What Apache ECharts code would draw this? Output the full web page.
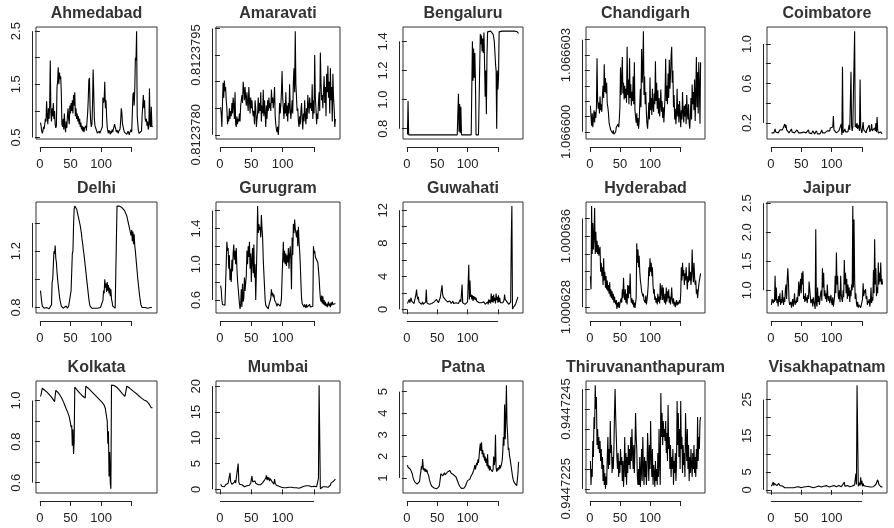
<!DOCTYPE html>
<html><head><meta charset="utf-8">
<script src="https://cdn.jsdelivr.net/npm/echarts@6/dist/echarts.min.js"></script>
<style>html,body{margin:0;padding:0;background:#fff}#c{width:894px;height:528px}</style>
</head><body><div id="c"></div>
<script>
const cities = ['Ahmedabad','Amaravati','Bengaluru','Chandigarh','Coimbatore','Delhi','Gurugram','Guwahati','Hyderabad','Jaipur','Kolkata','Mumbai','Patna','Thiruvananthapuram','Visakhapatnam'];
const xTickValues = [0,50,100,150];
const xLabelValues = [0,50,100];

const ahmedabad = [0.78,0.72,0.62,0.58,0.62,0.70,0.66,0.75,0.85,0.80,
1.18,0.90,0.75,1.05,0.85,1.10,1.95,0.95,0.80,1.05,
0.90,1.15,0.85,1.00,0.75,0.68,0.72,1.45,1.55,1.82,
1.50,1.72,1.60,1.65,1.35,0.75,0.70,0.85,0.65,0.95,
0.70,0.60,0.80,0.68,0.90,1.05,0.85,0.75,1.10,0.95,
1.15,1.00,1.20,0.95,1.30,1.10,1.35,0.90,1.05,0.85,
0.95,0.80,0.90,0.75,0.85,0.70,0.78,0.65,0.72,0.62,
0.70,0.60,0.68,0.65,0.72,0.63,0.80,0.95,1.20,1.58,
1.62,1.05,0.80,0.70,0.75,1.10,1.78,1.35,0.85,0.72,
0.70,0.65,0.62,0.58,0.60,0.56,0.62,0.58,0.55,0.60,
0.58,0.70,1.25,1.15,1.20,1.55,1.05,1.20,0.90,0.70,
0.62,0.58,0.64,0.60,0.56,0.62,0.58,0.65,0.60,0.58,
0.63,0.75,0.70,0.66,0.60,0.64,0.62,0.58,0.62,0.60,
0.66,0.82,1.05,0.95,0.75,0.70,0.65,0.60,0.62,0.58,
0.60,0.56,0.58,0.62,0.60,0.55,0.60,0.58,0.65,0.60,
0.62,1.30,1.35,1.10,1.40,2.00,1.95,2.50,0.92,0.75,
0.62,0.58,0.56,0.60,0.58,0.62,0.90,1.10,1.30,1.05,
1.20,0.85,0.80,0.85,0.72,0.80,0.65,0.70,1.42,0.75,
0.70,1.08,0.70,0.72];

const amaravati = [0.81237852,0.8123784,0.81237815,0.8123786,0.81237898,0.8123787,0.81237902,0.81237882,0.8123789,0.81237865,
0.8123785,0.8123782,0.81237835,0.81237825,0.8123785,0.8123783,0.81237845,0.81237835,0.8123786,0.8123784,
0.8123787,0.81237855,0.8123783,0.8123788,0.8123782,0.81237815,0.81237835,0.8123782,0.8123783,0.81237825,
0.8123784,0.81237825,0.81237855,0.81237865,0.81237875,0.8123786,0.812379,0.81237885,0.81237865,0.8123789,
0.8123787,0.81237855,0.8123788,0.8123786,0.81237845,0.8123789,0.81237865,0.8123784,0.8123787,0.8123785,
0.81237865,0.81237845,0.81237835,0.81237845,0.8123782,0.81237865,0.8123785,0.81237815,0.8123783,0.8123784,
0.8123787,0.8123784,0.8123786,0.81237845,0.8123788,0.81237825,0.81237855,0.8123784,0.81237885,0.81237835,
0.81237865,0.8123784,0.81237815,0.81237855,0.8123783,0.81237865,0.81237845,0.8123787,0.8123785,0.8123786,
0.81237845,0.81237885,0.8123786,0.8123787,0.8123785,0.81237865,0.8123789,0.81237835,0.8123782,0.8123781,
0.81237805,0.81237815,0.812378,0.8123782,0.8123786,0.8123784,0.81237855,0.8123788,0.8123792,0.8123787,
0.8123785,0.8123783,0.8123786,0.8123784,0.8123788,0.81237835,0.81237855,0.81237825,0.8123786,0.8123784,
0.81237895,0.8123785,0.8123783,0.81237845,0.81237865,0.8123784,0.812379,0.81237925,0.8123788,0.81237995,
0.81237895,0.8123787,0.81237845,0.8123785,0.81237825,0.81237815,0.81237835,0.8123782,0.81237845,0.8123786,
0.8123783,0.8123781,0.8123784,0.81237825,0.81237865,0.81237835,0.8123782,0.8123785,0.8123783,0.81237875,
0.81237855,0.8123784,0.8123787,0.8123785,0.8123786,0.81237845,0.81237895,0.8123783,0.81237865,0.8123784,
0.8123795,0.8123787,0.8123785,0.8123782,0.8123784,0.8123783,0.8123786,0.8123788,0.81237845,0.81237955,
0.812379,0.81237865,0.81237875,0.8123785,0.8123788,0.8123791,0.8123786,0.8123789,0.81237835,0.81237915,
0.8123788,0.8123793,0.8123787,0.812379,0.8123784,0.81237925,0.81237865,0.8123789,0.81237825,0.81237915,
0.8123787,0.8123785,0.81237815,0.8123783];

const bengaluru = [0.76,0.99,0.758,0.758,0.758,0.758,0.758,0.758,0.758,0.758,
0.758,0.758,0.758,0.758,0.758,0.758,0.758,0.758,0.758,0.758,
0.758,0.765,0.758,0.758,0.758,0.758,0.758,0.758,0.758,0.758,
0.758,0.758,0.758,0.758,0.758,0.758,0.758,0.758,0.758,0.758,
0.758,0.758,0.758,0.758,0.758,0.758,0.758,0.758,0.758,0.758,
0.758,0.758,0.758,0.758,0.758,0.758,0.758,0.758,0.758,0.758,
0.758,0.758,0.758,0.758,0.758,0.758,0.758,0.758,0.758,0.758,
0.758,0.758,0.758,0.758,0.758,0.758,0.758,0.758,0.758,0.758,
0.758,0.758,0.758,0.758,1.04,0.78,0.97,0.77,0.95,0.758,
0.758,0.758,0.758,0.758,0.758,0.758,0.758,0.758,0.758,0.758,
0.758,0.758,0.758,0.758,0.758,0.758,0.758,1.40,1.13,1.35,
1.15,1.32,1.12,0.758,0.758,0.758,0.758,0.758,0.758,0.758,
1.45,1.38,1.44,1.33,1.42,1.32,1.46,1.25,1.02,1.20,
0.90,1.30,1.465,1.47,1.47,1.47,1.47,1.47,1.47,1.47,
1.46,1.45,1.43,1.40,1.33,1.25,1.20,0.80,1.20,1.07,
1.15,1.465,1.47,1.47,1.47,1.47,1.47,1.47,1.47,1.47,
1.47,1.47,1.47,1.47,1.47,1.47,1.47,1.47,1.47,1.47,
1.47,1.47,1.47,1.47,1.47,1.47,1.47,1.47,1.47,1.47,
1.468,1.465,1.46,1.455];

const chandigarh = [1.06660085,1.0666005,1.0666002,1.0666006,1.06660015,1.0666004,1.0666007,1.0666003,1.06660065,1.06660045,
1.0666008,1.0666024,1.066601,1.06660075,1.06660095,1.0666006,1.06660115,1.0666007,1.0666009,1.06660065,
1.0666012,1.0666015,1.0666011,1.0666022,1.0666013,1.06660175,1.06660125,1.0666016,1.0666009,1.0666008,
1.0666006,1.0666003,1.0666002,1.06660015,1.06660005,1.0666001,1.0666,1.06659995,1.06660005,1.06659992,
1.0665999,1.06659991,1.0666,1.06660015,1.0666002,1.0666001,1.06660025,1.06660015,1.0666004,1.0666008,
1.0666021,1.0666012,1.0666017,1.06660244,1.06660125,1.0666016,1.06660105,1.0666015,1.0666011,1.0666014,
1.06660095,1.06660277,1.0666012,1.0666017,1.0666009,1.0666024,1.0666011,1.06660155,1.06660085,1.0666013,
1.066601,1.0666018,1.0666009,1.06660227,1.0666007,1.0666005,1.0666003,1.0666006,1.0666002,1.06660045,
1.0666001,1.06660035,1.0666009,1.0666014,1.0666008,1.0666027,1.0666016,1.066602,1.06660328,1.0666012,
1.0666018,1.0666009,1.0666013,1.0666006,1.06660025,1.0666001,1.0666005,1.06660095,1.0666004,1.06660177,
1.0666007,1.0666011,1.06660055,1.0666014,1.0666008,1.06660065,1.06660125,1.0666009,1.0666023,1.066601,
1.0666016,1.06660075,1.06660135,1.0666006,1.0666011,1.0666005,1.0666009,1.06660138,1.06660065,1.066601,
1.06660045,1.0666008,1.0666003,1.0666007,1.0666012,1.06660238,1.066601,1.0666015,1.0666009,1.0666019,
1.0666011,1.06660235,1.0666014,1.0666018,1.06660245,1.06660277,1.0666016,1.066602,1.0666008,1.0666012,
1.0666004,1.06660075,1.06660025,1.0666006,1.0666014,1.0666005,1.0666009,1.0666003,1.066601,1.0666006,
1.06660015,1.0666007,1.0666004,1.0666013,1.06660065,1.0666003,1.06660085,1.0666005,1.0666009,1.06660025,
1.0666012,1.0666006,1.0666004,1.0666009,1.0666003,1.0666001,1.0666005,1.0666011,1.0666004,1.06660154,
1.0666009,1.0666013,1.0666007,1.0666017,1.06660035,1.0666012,1.06660244,1.0666008,1.06660194,1.0666006,
1.06660227,1.0666015,1.06660026,1.06660227];

const coimbatore = [0.10,0.09,0.10,0.11,0.10,0.12,0.14,0.11,0.10,0.12,
0.11,0.10,0.12,0.11,0.13,0.12,0.11,0.12,0.13,0.12,
0.14,0.13,0.19,0.15,0.18,0.13,0.12,0.15,0.11,0.10,
0.11,0.10,0.12,0.14,0.11,0.10,0.12,0.13,0.10,0.09,
0.10,0.11,0.13,0.14,0.12,0.10,0.09,0.10,0.11,0.10,
0.12,0.10,0.09,0.11,0.10,0.12,0.11,0.10,0.09,0.10,
0.11,0.13,0.10,0.09,0.11,0.10,0.09,0.10,0.12,0.11,
0.10,0.09,0.10,0.11,0.12,0.10,0.09,0.10,0.11,0.10,
0.09,0.10,0.11,0.13,0.10,0.09,0.10,0.11,0.10,0.12,
0.11,0.10,0.12,0.14,0.11,0.13,0.12,0.15,0.13,0.16,
0.14,0.16,0.27,0.13,0.15,0.12,0.11,0.10,0.12,0.11,
0.10,0.12,0.14,0.11,0.13,0.19,0.08,0.77,0.10,0.09,
0.12,0.14,0.11,0.13,0.10,0.12,0.11,0.15,0.18,0.13,
0.14,0.72,0.17,0.12,0.16,0.14,0.18,1.13,0.16,0.19,
0.15,0.20,0.14,0.13,0.18,0.12,0.64,0.15,0.13,0.10,
0.16,0.21,0.13,0.11,0.14,0.12,0.10,0.13,0.11,0.15,
0.12,0.18,0.11,0.10,0.14,0.19,0.12,0.10,0.13,0.11,
0.15,0.12,0.20,0.11,0.26,0.13,0.10,0.12,0.11,0.10,
0.11,0.10,0.09,0.10];

const delhi = [0.92,0.88,0.84,0.81,0.80,0.80,0.795,0.80,0.80,0.795,
0.80,0.80,0.795,0.80,0.79,0.80,0.80,0.80,0.82,0.98,
1.00,1.10,1.20,1.18,1.24,1.15,1.12,1.05,1.00,0.96,
0.92,0.88,0.85,0.83,0.81,0.80,0.80,0.795,0.80,0.80,
0.80,0.80,0.81,0.80,0.795,0.80,0.81,0.80,0.80,0.82,
0.92,1.05,1.18,1.20,1.38,1.50,1.52,1.52,1.51,1.50,
1.48,1.46,1.44,1.42,1.40,1.38,1.35,1.32,1.28,1.25,
1.21,1.18,1.14,1.10,1.06,1.02,0.98,0.94,0.90,0.86,
0.83,0.81,0.80,0.80,0.795,0.80,0.80,0.80,0.795,0.80,
0.80,0.80,0.80,0.795,0.80,0.80,0.80,0.80,0.80,0.81,
0.80,0.81,0.85,0.92,0.90,1.00,0.94,0.97,0.91,0.98,
0.92,0.96,0.90,0.94,0.88,0.93,0.86,0.84,0.81,0.80,
0.80,0.80,0.795,0.80,0.80,1.52,1.52,1.52,1.52,1.52,
1.52,1.52,1.515,1.51,1.51,1.50,1.50,1.49,1.48,1.47,
1.46,1.45,1.43,1.41,1.39,1.37,1.35,1.33,1.31,1.35,
1.27,1.34,1.25,1.32,1.24,1.20,1.15,1.10,1.05,1.00,
0.96,0.92,0.88,0.85,0.82,0.81,0.80,0.80,0.795,0.80,
0.80,0.80,0.81,0.80,0.80,0.795,0.80,0.80,0.80,0.80,
0.80,0.795,0.80,0.80];

const gurugram = [0.76,0.72,0.60,0.55,0.54,0.53,0.55,0.54,0.56,0.55,
1.25,1.15,1.18,0.95,1.10,0.82,0.95,0.80,1.05,0.92,
1.12,1.22,1.05,1.15,1.00,1.18,0.95,0.82,0.80,0.65,
0.56,0.50,0.55,0.72,0.52,0.78,0.58,0.62,0.85,0.70,
0.68,0.88,1.15,1.00,1.20,1.08,1.25,0.95,1.12,0.80,
1.05,1.18,0.90,1.22,0.85,1.00,0.60,0.90,1.20,1.65,
1.35,1.45,1.38,1.42,1.30,1.55,1.40,1.30,1.05,0.90,
0.75,0.60,0.54,0.52,0.55,0.53,0.50,0.54,0.52,0.56,
0.62,0.72,0.65,0.68,0.63,0.66,0.60,0.62,0.57,0.55,
0.53,0.56,0.54,0.58,0.55,0.53,0.56,0.62,0.85,1.05,
1.25,1.02,1.15,1.00,1.12,0.98,1.10,1.02,1.18,0.95,
1.10,1.20,1.05,0.72,1.30,1.10,1.45,1.35,1.50,1.40,
1.42,1.30,1.38,1.20,1.42,1.25,1.15,1.00,0.80,0.62,
0.56,0.54,0.58,0.52,0.55,0.53,0.51,0.55,0.52,0.54,
0.53,0.51,0.55,0.52,0.54,0.52,0.50,0.53,1.20,1.12,
1.15,1.08,1.10,1.05,1.06,1.02,1.00,0.85,0.72,0.62,
0.58,0.65,0.56,0.64,0.55,0.60,0.54,0.58,0.53,0.56,
0.52,0.55,0.58,0.53,0.56,0.52,0.57,0.54,0.58,0.55,
0.53,0.57,0.55,0.56];

const guwahati = [0.7,0.6,0.9,1.2,0.8,0.7,1.4,1.0,0.8,0.9,
1.0,0.7,1.1,1.3,1.8,2.4,1.6,1.2,1.5,0.9,
1.0,0.8,0.7,0.6,0.7,0.9,0.6,0.7,0.8,0.7,
0.9,2.4,0.8,0.7,0.6,0.7,0.6,0.8,0.7,0.6,
0.7,0.6,0.8,0.7,0.9,0.8,1.0,0.9,1.2,1.3,
1.0,0.8,0.7,0.9,1.4,1.2,1.6,2.9,1.8,1.5,
1.7,1.4,1.2,1.3,1.0,1.1,0.9,1.0,0.8,0.9,
1.0,0.8,0.7,0.9,0.8,1.0,0.7,0.8,0.6,0.7,
0.8,0.6,0.7,0.9,0.7,0.8,0.6,1.2,0.9,0.7,
3.0,0.8,0.7,0.6,0.7,0.6,0.8,0.7,0.6,0.9,
0.8,5.4,1.2,3.5,1.5,1.8,1.2,1.7,1.0,1.6,
1.2,1.5,1.1,1.4,1.0,1.2,0.9,1.1,0.8,0.9,
0.7,0.6,0.8,0.7,0.6,0.7,0.9,0.8,0.6,0.7,
0.8,0.7,0.9,0.6,1.2,0.8,1.1,0.7,1.9,0.9,
1.6,0.8,1.8,1.0,1.4,0.7,1.9,1.1,1.5,0.8,
1.7,0.9,1.4,0.8,0.7,1.0,0.6,0.8,0.9,1.1,
1.8,1.2,1.0,1.3,0.9,0.7,0.8,0.6,0.8,0.7,
0.9,8.5,12.5,0.05,0.2,0.3,0.5,0.4,0.6,0.5,
0.7,0.6,1.5,1.5];

const hyderabad = [1.0006315,1.00063,1.0006394,1.000634,1.0006375,1.0006345,1.000636,1.0006392,1.000634,1.0006365,
1.0006342,1.0006355,1.000634,1.000635,1.0006338,1.0006345,1.0006348,1.000632,1.000633,1.0006315,
1.0006325,1.0006305,1.0006335,1.000631,1.000632,1.0006302,1.0006315,1.00063,1.000631,1.0006298,
1.0006305,1.0006295,1.0006308,1.0006292,1.00063,1.000629,1.0006298,1.0006288,1.0006295,1.0006285,
1.0006292,1.0006286,1.0006283,1.0006288,1.0006278,1.0006285,1.000628,1.0006286,1.0006279,1.0006284,
1.0006282,1.000629,1.0006285,1.00063,1.000629,1.0006313,1.0006295,1.0006288,1.00063,1.0006285,
1.0006295,1.0006283,1.0006305,1.000629,1.0006304,1.0006295,1.0006318,1.0006292,1.0006285,1.000629,
1.0006283,1.0006288,1.000628,1.0006285,1.0006279,1.0006278,1.000629,1.0006352,1.000633,1.0006345,
1.0006325,1.0006338,1.000632,1.000631,1.0006305,1.0006298,1.00063,1.0006292,1.0006295,1.0006288,
1.000629,1.0006285,1.0006293,1.0006283,1.0006288,1.0006295,1.0006305,1.0006325,1.0006315,1.0006335,
1.000632,1.000633,1.0006315,1.0006325,1.0006305,1.0006295,1.00063,1.0006288,1.0006292,1.0006285,
1.000629,1.0006283,1.0006295,1.0006286,1.0006292,1.0006284,1.0006307,1.0006288,1.0006298,1.0006305,
1.0006288,1.0006302,1.000629,1.0006285,1.0006295,1.0006283,1.0006302,1.0006286,1.0006298,1.000629,
1.00063,1.0006285,1.0006292,1.0006283,1.000629,1.0006302,1.0006288,1.0006284,1.000629,1.0006282,
1.0006286,1.000628,1.0006284,1.0006288,1.0006282,1.0006286,1.0006283,1.0006285,1.0006288,1.0006284,
1.0006295,1.0006325,1.000631,1.000633,1.0006315,1.0006322,1.0006305,1.0006318,1.000631,1.0006325,
1.0006312,1.00063,1.0006315,1.0006308,1.000633,1.000631,1.000632,1.0006305,1.0006315,1.0006345,
1.000632,1.0006308,1.000633,1.0006315,1.0006305,1.000631,1.0006295,1.00063,1.000629,1.0006298,
1.0006305,1.000631,1.0006308,1.0006318];

const jaipur = [0.75,0.85,0.88,0.78,0.84,0.80,1.25,0.82,1.05,0.78,
0.85,0.72,0.90,0.80,0.95,0.75,0.85,0.78,1.00,0.82,
0.75,0.88,0.80,1.02,1.10,0.85,1.20,1.38,1.15,0.82,
0.75,0.72,0.80,0.70,0.78,0.85,0.72,0.80,0.95,0.75,
0.82,0.78,0.88,0.80,0.95,1.15,0.90,1.05,1.20,0.95,
1.30,1.10,1.33,0.85,0.90,0.80,0.95,0.82,0.88,0.78,
0.92,0.85,1.15,1.12,0.90,0.78,0.75,0.85,0.72,0.88,
0.80,0.75,0.68,2.05,0.78,0.72,1.05,0.80,0.90,0.75,
0.85,0.95,1.00,0.82,1.38,1.05,1.30,0.90,1.00,0.85,
0.95,0.80,1.10,0.88,0.82,0.90,0.78,0.85,0.92,0.80,
0.75,0.88,0.72,0.80,0.90,1.25,0.95,1.65,1.10,1.25,
0.90,0.85,1.00,0.80,1.25,0.92,0.85,0.80,1.00,0.88,
1.52,1.10,1.30,0.95,1.20,0.85,1.10,0.90,1.05,0.80,
1.00,0.90,1.10,1.00,2.45,1.05,2.22,1.20,0.85,0.95,
0.78,0.72,0.80,0.70,0.75,0.72,0.78,0.70,0.75,0.72,
0.85,1.12,0.90,1.00,0.95,1.02,0.85,0.90,0.75,0.82,
0.78,0.85,0.72,0.80,1.05,0.78,0.88,0.82,1.35,0.95,
1.88,1.10,1.38,0.90,1.05,0.95,1.48,1.10,1.30,1.15,
1.48,1.10,1.20,1.10];

const kolkata = [1.02,1.03,1.025,1.06,1.058,1.055,1.052,1.05,1.048,1.045,
1.043,1.04,1.037,1.034,1.03,1.027,1.024,1.02,1.016,1.012,
1.008,1.004,1.00,0.995,0.99,1.05,1.048,1.045,1.042,1.038,
1.034,1.03,1.025,1.02,1.015,1.01,1.004,0.998,0.99,0.982,
0.975,0.967,0.96,0.953,0.946,0.94,0.93,0.92,0.905,0.89,
0.87,0.88,0.78,0.86,0.74,0.80,1.065,1.06,1.057,1.054,
1.05,1.047,1.044,1.04,1.037,1.034,1.03,1.028,1.025,1.022,
1.02,1.018,1.015,1.012,1.07,1.068,1.066,1.063,1.06,1.057,
1.054,1.051,1.048,1.045,1.042,1.039,1.036,1.033,1.03,1.027,
1.024,1.021,1.018,1.015,1.012,1.009,1.006,1.003,1.00,0.997,
0.994,0.99,0.986,0.982,0.978,0.972,0.96,0.94,0.92,0.90,
0.79,0.85,0.63,0.75,0.60,0.57,1.075,1.075,1.075,1.074,
1.073,1.072,1.07,1.068,1.066,1.063,1.06,1.057,1.054,1.05,
1.047,1.043,1.04,1.036,1.033,1.03,1.027,1.024,1.02,1.017,
1.015,1.07,1.068,1.066,1.064,1.062,1.06,1.058,1.055,1.052,
1.05,1.047,1.045,1.042,1.04,1.037,1.035,1.033,1.03,1.028,
1.025,1.022,1.02,1.017,1.015,1.012,1.01,1.005,1.008,1.003,
1.005,1.0,1.002,0.998,1.0,0.995,0.99,0.985,0.98,0.975,
0.97,0.965,0.96,0.965];

const mumbai = [1.0,0.8,0.6,0.5,0.7,0.6,0.5,0.8,0.9,0.7,
1.0,0.8,1.2,1.0,1.5,3.2,1.5,1.2,1.0,0.9,
0.8,1.0,1.4,1.8,1.2,1.5,1.0,1.2,5.0,1.5,
1.0,0.8,1.0,0.7,0.9,0.6,0.8,0.7,0.5,0.6,
0.8,0.6,0.7,0.5,0.7,0.6,0.8,1.0,1.2,1.0,
2.6,1.5,1.2,1.8,1.3,1.6,1.2,1.5,1.0,1.2,
0.9,1.0,0.8,1.1,0.9,1.2,1.0,1.3,1.5,1.4,
1.8,1.6,2.2,2.7,1.8,2.4,1.9,2.3,1.6,2.1,
1.8,2.3,1.5,1.2,1.6,1.0,2.0,1.2,0.9,0.8,
0.7,0.6,0.8,0.6,0.5,0.7,0.5,0.4,0.5,0.4,
0.4,0.3,0.4,0.3,0.4,0.3,0.3,0.4,0.3,0.4,
0.5,0.6,0.5,0.4,0.3,0.3,0.2,0.3,0.2,0.3,
0.2,0.3,0.2,0.3,0.3,0.2,0.3,0.2,0.3,0.4,
0.3,0.4,0.5,0.6,0.5,0.7,0.8,0.7,1.0,0.8,
0.9,0.7,0.8,0.6,0.7,0.5,0.6,0.5,0.7,0.6,
0.8,0.6,0.7,0.5,0.6,0.8,2.2,20.2,10.3,0.1,
0.3,0.4,0.3,0.5,0.4,0.3,0.4,0.5,0.4,0.6,
0.5,0.4,0.5,0.6,0.5,0.8,1.2,1.0,1.4,1.2,
1.6,1.5,1.8,2.0];

const patna = [1.60,1.50,1.58,1.42,1.55,1.40,1.48,1.35,1.20,1.05,
0.95,0.88,0.82,0.78,0.80,0.75,0.72,0.78,0.70,0.75,
0.85,1.10,1.30,1.55,1.40,1.88,1.50,1.35,1.45,1.30,
1.42,1.28,1.38,1.25,1.32,1.10,0.95,0.85,0.75,0.68,
0.62,0.58,0.55,0.58,0.54,0.52,0.56,0.53,0.50,0.55,
0.54,0.58,0.60,0.75,0.95,1.20,1.15,1.22,1.10,1.18,
1.12,1.25,1.15,1.20,1.10,1.22,1.28,1.20,1.32,1.25,
1.35,1.28,1.22,1.30,1.20,1.25,1.15,1.22,1.18,1.10,
1.05,1.00,0.90,0.82,0.75,0.70,0.62,0.58,0.54,0.52,
0.55,0.50,0.56,0.53,0.58,0.62,0.65,0.75,0.82,0.88,
0.85,0.92,0.88,0.95,1.05,1.00,1.10,1.20,1.15,1.35,
1.45,1.60,1.40,1.55,1.70,1.60,1.85,1.70,2.00,2.35,
2.60,2.25,2.65,2.10,2.30,1.95,2.15,1.80,2.00,1.70,
1.90,1.55,2.10,1.45,1.60,1.35,1.55,1.40,1.48,1.35,
1.30,1.40,2.00,1.60,1.80,3.00,1.50,1.30,1.45,1.35,
1.50,1.40,1.60,1.45,1.55,1.65,1.80,2.20,2.90,2.50,
4.40,2.80,3.80,5.30,3.50,3.00,2.30,2.40,2.05,1.90,
1.70,1.50,1.30,1.10,0.95,0.85,0.80,0.75,0.70,0.68,
0.65,0.62,1.20,1.75];

const thiruvananthapuram = [0.9447232,0.9447226,0.944723,0.9447228,0.9447237,0.9447233,0.9447243,0.944724,0.9447251,0.9447245,
0.9447248,0.9447236,0.944724,0.9447235,0.9447238,0.9447234,0.9447237,0.9447232,0.9447235,0.944723,
0.9447233,0.9447227,0.9447231,0.9447226,0.9447229,0.9447225,0.9447228,0.9447226,0.9447233,0.9447238,
0.944723,0.9447235,0.9447231,0.9447242,0.9447234,0.9447236,0.9447229,0.9447233,0.944723,0.9447235,
0.9447244,0.944725,0.9447243,0.9447238,0.9447233,0.944723,0.9447234,0.9447228,0.9447232,0.9447229,
0.9447235,0.9447231,0.9447233,0.9447227,0.9447232,0.94472255,0.944723,0.9447238,0.9447228,0.9447234,
0.9447226,0.9447233,0.9447229,0.9447236,0.9447231,0.9447235,0.944723,0.9447238,0.9447232,0.944724,
0.9447234,0.944723,0.9447236,0.9447229,0.9447235,0.9447244,0.9447238,0.9447235,0.9447228,0.9447226,
0.944723,0.9447226,0.9447233,0.94472255,0.9447229,0.9447235,0.9447227,0.9447238,0.9447231,0.9447226,
0.9447233,0.9447228,0.9447232,0.9447226,0.944723,0.9447239,0.9447234,0.9447227,0.9447236,0.944723,
0.9447242,0.9447233,0.9447228,0.9447235,0.9447226,0.9447231,0.9447229,0.94472255,0.9447232,0.9447227,
0.944723,0.9447226,0.9447234,0.9447228,0.944724,0.9447231,0.9447226,0.9447249,0.9447238,0.9447244,
0.9447236,0.9447242,0.9447238,0.944724,0.9447237,0.9447242,0.9447234,0.9447239,0.9447232,0.9447246,
0.9447235,0.9447238,0.944723,0.9447236,0.9447228,0.9447233,0.944723,0.9447235,0.9447226,0.9447232,
0.9447229,0.9447234,0.9447227,0.9447231,0.9447247,0.9447236,0.9447244,0.9447233,0.944724,0.944723,
0.9447247,0.9447235,0.9447238,0.9447229,0.9447236,0.9447231,0.9447234,0.9447228,0.9447244,0.9447237,
0.9447232,0.944724,0.944723,0.9447236,0.9447227,0.9447233,0.9447229,0.9447235,0.9447231,0.9447228,
0.9447234,0.944723,0.9447236,0.9447229,0.9447233,0.9447228,0.9447235,0.944723,0.9447243,0.9447232,
0.9447238,0.9447235,0.9447242,0.9447243];

const visakhapatnam = [1.0,1.5,0.8,2.2,1.2,1.8,1.4,2.0,1.5,1.2,
1.6,1.3,1.8,1.4,1.2,1.0,1.3,0.9,1.1,0.8,
0.7,0.9,0.6,0.5,0.7,0.5,0.4,0.6,0.5,0.3,
0.5,0.4,0.6,0.5,0.7,0.5,0.4,0.6,0.5,0.7,
0.6,0.8,0.5,0.7,0.6,0.9,0.7,0.5,0.8,0.6,
0.7,0.9,0.6,0.8,0.5,0.7,0.6,0.9,0.7,0.8,
0.6,1.0,0.7,0.9,0.6,0.8,1.0,0.7,0.9,0.6,
0.8,0.7,1.0,0.8,0.6,0.9,0.7,0.8,1.1,0.9,
0.7,1.0,0.8,1.2,0.9,0.7,1.0,0.8,1.1,0.9,
0.8,1.2,0.9,0.7,1.0,0.8,1.1,0.9,1.3,1.0,
0.8,1.1,0.9,1.2,1.0,0.8,1.1,0.9,1.3,1.0,
0.9,1.2,1.0,0.8,1.1,0.9,1.4,1.1,1.6,1.2,
2.2,1.0,0.8,1.1,0.9,1.2,1.0,0.8,1.1,0.9,
1.2,1.0,1.3,1.1,0.9,1.2,1.0,1.4,1.1,4.5,
1.5,29.0,15.5,1.0,1.5,2.0,1.2,3.5,1.5,2.5,
1.0,1.8,1.2,1.5,0.9,1.2,1.0,1.3,0.8,1.1,
0.9,0.7,1.0,0.6,0.8,0.5,0.7,0.6,0.9,0.7,
1.0,1.2,1.5,2.0,1.6,2.8,2.2,1.5,1.8,1.2,
1.0,0.8,0.6,0.9];

const yTickValues = [
  [0.5,1.0,1.5,2.0,2.5],
  [0.812378,0.8123785,0.812379,0.8123795,0.81238],
  [0.8,1.0,1.2,1.4],
  [1.0666,1.0666005,1.066601,1.0666015,1.066602,1.0666025,1.066603],
  [0.2,0.4,0.6,0.8,1.0],
  [0.8,1.0,1.2,1.4],
  [0.6,0.8,1.0,1.2,1.4,1.6],
  [0,2,4,6,8,10,12],
  [1.000628,1.00063,1.000632,1.000634,1.000636,1.000638],
  [1.0,1.5,2.0,2.5],
  [0.6,0.7,0.8,0.9,1.0],
  [0,5,10,15,20],
  [1,2,3,4,5],
  [0.9447225,0.944723,0.9447235,0.944724,0.9447245,0.944725],
  [0,5,10,15,20,25]
];
const yLabelValues = [
  [0.5,1.5,2.5],
  [0.812378,0.8123795],
  [0.8,1.0,1.2,1.4],
  [1.0666,1.0666025],
  [0.2,0.6,1.0],
  [0.8,1.2],
  [0.6,1.0,1.4],
  [0,4,8,12],
  [1.000628,1.000636],
  [1.0,1.5,2.0,2.5],
  [0.6,0.8,1.0],
  [0,5,10,15,20],
  [1,2,3,4,5],
  [0.9447225,0.9447245],
  [0,5,15,25]
];
const yLabelTexts = [
  ['0.5','1.5','2.5'],
  ['0.8123780','0.8123795'],
  ['0.8','1.0','1.2','1.4'],
  ['1.066600','1.066603'],
  ['0.2','0.6','1.0'],
  ['0.8','1.2'],
  ['0.6','1.0','1.4'],
  ['0','4','8','12'],
  ['1.000628','1.000636'],
  ['1.0','1.5','2.0','2.5'],
  ['0.6','0.8','1.0'],
  ['0','5','10','15','20'],
  ['1','2','3','4','5'],
  ['0.9447225','0.9447245'],
  ['0','5','15','25']
];

const seriesList = [ahmedabad, amaravati, bengaluru, chandigarh, coimbatore, delhi, gurugram, guwahati, hyderabad, jaipur, kolkata, mumbai, patna, thiruvananthapuram, visakhapatnam];

// layout (pixels)
const colL = [36,216,403,586,767], colR = [157,340,523,705,887];
const rowT = [27,202,381], rowB = [139,313,493];
const FONT = '"Liberation Sans", Arial, Helvetica, sans-serif';
const INK = '#222';

const chart = echarts.init(document.getElementById('c'), null, {renderer:'canvas'});
const option = {animation:false, backgroundColor:'#fff', title:[], grid:[], xAxis:[], yAxis:[], series:[]};

seriesList.forEach((vals, k) => {
  const r = Math.floor(k/5), c = k%5;
  const L = colL[c], T = rowT[r], W = colR[c]-L, H = rowB[r]-T;
  const n = vals.length;
  const mn = Math.min(...vals), mx = Math.max(...vals), pad = 0.04*(mx-mn);
  option.grid.push({left:L, top:T, width:W, height:H, show:true, borderColor:'#333', borderWidth:1, backgroundColor:'transparent', containLabel:false});
  option.title.push({text:cities[k], left:L+W/2, top:T-21, textAlign:'center', padding:0,
    textStyle:{fontFamily:FONT, fontSize:16, fontWeight:'bold', color:'#333'}});
  option.xAxis.push({type:'value', gridIndex:k, position:'bottom', offset:8,
    min:1-0.04*(n-1), max:n+0.04*(n-1),
    axisLine:{show:false},
    axisTick:{show:true, inside:false, length:5, customValues:xTickValues, lineStyle:{color:INK, width:1}},
    axisLabel:{show:true, customValues:xLabelValues, margin:11, fontSize:13, fontFamily:FONT, color:INK},
    splitLine:{show:false}});
  const lv = yLabelValues[k], lt = yLabelTexts[k];
  option.yAxis.push({type:'value', gridIndex:k, position:'left', offset:3,
    min:mn-pad, max:mx+pad, scale:true,
    axisLine:{show:false},
    axisTick:{show:true, inside:false, length:5, customValues:yTickValues[k], lineStyle:{color:INK, width:1}},
    axisLabel:{show:true, customValues:lv, rotate:90, margin:10, fontSize:13, fontFamily:FONT, color:INK,
      formatter:(v)=>{let b=0,bd=Infinity; lv.forEach((x,j)=>{const d=Math.abs(x-v); if(d<bd){bd=d;b=j;}}); return lt[b];}},
    splitLine:{show:false}});
  option.series.push({type:'line', xAxisIndex:k, yAxisIndex:k, data:vals.map((v,i)=>[i+1,v]),
    showSymbol:false, symbol:'none', silent:true, clip:true,
    lineStyle:{color:'#000', width:1.1}});
});
chart.setOption(option);

// R-style axis lines: from first to last tick, offset from the box
const g = [];
seriesList.forEach((vals, k) => {
  const r = Math.floor(k/5), c = k%5;
  const xa = chart.convertToPixel({xAxisIndex:k}, xTickValues[0]);
  const xb = chart.convertToPixel({xAxisIndex:k}, xTickValues[xTickValues.length-1]);
  const yl = Math.round(rowB[r]+8)+0.5;
  g.push({type:'line', silent:true, shape:{x1:xa, y1:yl, x2:xb, y2:yl}, style:{stroke:INK, lineWidth:1}});
  const t = yTickValues[k];
  const ya = chart.convertToPixel({yAxisIndex:k}, t[0]);
  const yb = chart.convertToPixel({yAxisIndex:k}, t[t.length-1]);
  const xl = Math.round(colL[c]-3)-0.5;
  g.push({type:'line', silent:true, shape:{x1:xl, y1:ya, x2:xl, y2:yb}, style:{stroke:INK, lineWidth:1}});
});
chart.setOption({graphic:g});
</script></body></html>
